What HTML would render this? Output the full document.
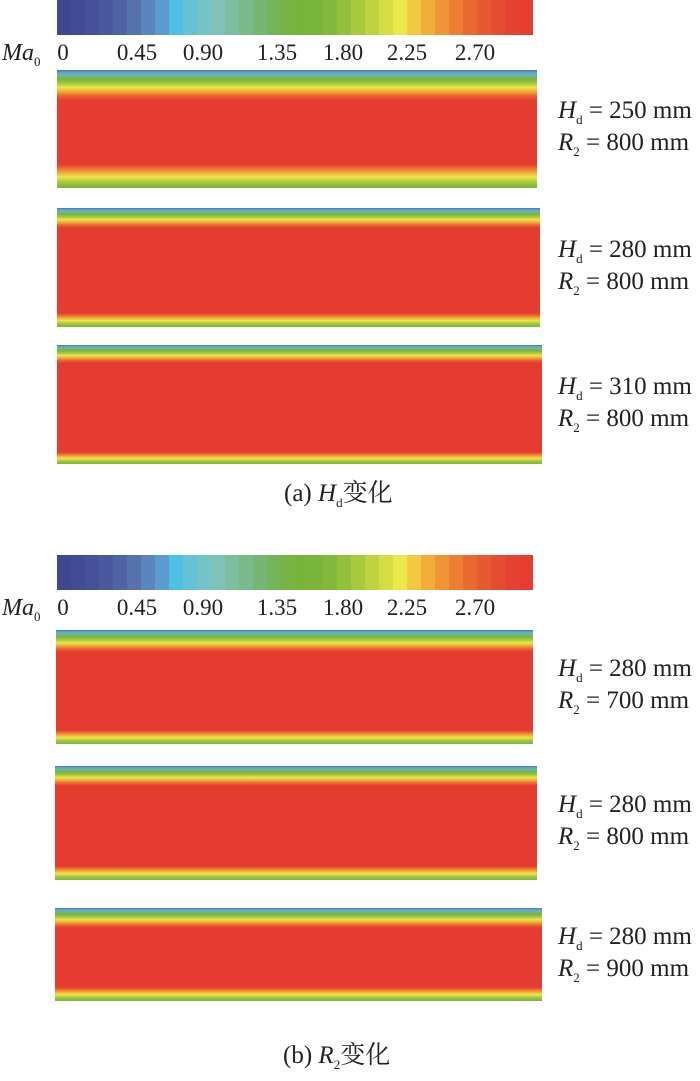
<!DOCTYPE html>
<html><head><meta charset="utf-8">
<style>
body{margin:0;width:700px;height:1081px;background:#fff;position:relative;overflow:hidden;font-family:"Liberation Serif","Noto Serif CJK SC",serif;color:#222}
.abs{position:absolute}
.lbl{position:absolute;font-size:25px;white-space:nowrap;line-height:1}
.tick{position:absolute;font-size:23px;line-height:1;transform:translateX(-50%)}
i sub,sub{font-size:13px;font-style:normal}
</style></head><body>
<script>
const cbColors=["#3e4792","#414c96","#45519a","#4a589e","#5063a4","#5673ae","#5a86c0","#5c9bd0","#4fbfe6","#64c2d4","#74c3c8","#7ec2b8","#7dbea0","#79ba88","#77b672","#76b45a","#77b444","#78b43c","#79b53a","#82b93a","#94c13c","#a8c93e","#bed242","#d4dc46","#ebe84c","#f2c940","#f3ae3a","#f09536","#ec7d32","#e96a30","#e75a30","#e64c30","#e54232","#e63c31"];
const cbTicks=["0","0.45","0.90","1.35","1.80","2.25","2.70"];
const cbTickX=[63,137,203,277,343,407,475];
const panelHd=["250","280","310","280","280","280"];
const panelR2=["800","800","800","700","800","900"];
const panelTop=[70,208,345,630,766,908];
const panelBot=[188,327,464,744,880,1001];
const panelLeft=[57,57,57,56,55,55];
const panelRight=[537,540,542,533,537,542];
const topEdge=[30,20,18,22,20,20];
const botEdge=[24,14,12,14,14,14];
function grad(h,t,b){
 const s=[["#4f6fb8",0],["#5aa3d8",t*0.08],["#6db8a0",t*0.18],["#76b43c",t*0.3],["#a6c83e",t*0.45],["#ece64a",t*0.58],["#f2a83a",t*0.72],["#ea6430",t*0.86],["#e53b30",t],
 ["#e53b30",h-b],["#ea6430",h-b*0.85],["#f2a83a",h-b*0.65],["#ece64a",h-b*0.45],["#a6c83e",h-b*0.25],["#76b43c",h]];
 return "linear-gradient(to bottom,"+s.map(x=>x[0]+" "+x[1].toFixed(1)+"px").join(",")+")";
}
function colorbar(y){
 const cb=document.createElement('div');
 
 
 cb.className='abs';cb.style.cssText=`left:57px;top:${y}px;width:476px;height:35px;display:flex`;
 cbColors.forEach(c=>{const d=document.createElement('div');
  
  
  d.style.cssText=`flex:1;background:${c}`;cb.appendChild(d);});
 document.body.appendChild(cb);
 const m=document.createElement('div');
 
 
 m.className='lbl';m.style.cssText=`left:2px;top:${y+41}px;font-size:24px`;
 m.innerHTML='<i>Ma</i><sub>0</sub>';document.body.appendChild(m);
 cbTicks.forEach((t,i)=>{const d=document.createElement('div');
  
  
  d.className='tick';d.style.left=cbTickX[i]+'px';d.style.top=(y+41)+'px';d.textContent=t;document.body.appendChild(d);});
}
colorbar(0);colorbar(555);
panelTop.forEach((t,i)=>{
 const h=panelBot[i]-t;
 const p=document.createElement('div');
 
 
 p.className='abs';p.style.cssText=`left:${panelLeft[i]}px;top:${t}px;width:${panelRight[i]-panelLeft[i]}px;height:${h}px;background:${grad(h,topEdge[i],botEdge[i])}`;
 document.body.appendChild(p);
 const cy=t+h/2;
 const a=document.createElement('div');
 
 
 a.className='lbl';a.style.cssText=`left:558px;top:${cy-31}px`;
 a.innerHTML=`<i>H</i><sub>d</sub> = ${panelHd[i]} mm`;document.body.appendChild(a);
 const b=document.createElement('div');
 
 
 b.className='lbl';b.style.cssText=`left:558px;top:${cy+1}px`;
 b.innerHTML=`<i>R</i><sub>2</sub> = ${panelR2[i]} mm`;document.body.appendChild(b);
});
</script>
<div class="lbl" style="left:284px;top:481px;font-size:25px">(a) <i>H</i><sub>d</sub>变化</div>
<div class="lbl" style="left:283px;top:1043px;font-size:25px">(b) <i>R</i><sub>2</sub>变化</div>
</body></html>
